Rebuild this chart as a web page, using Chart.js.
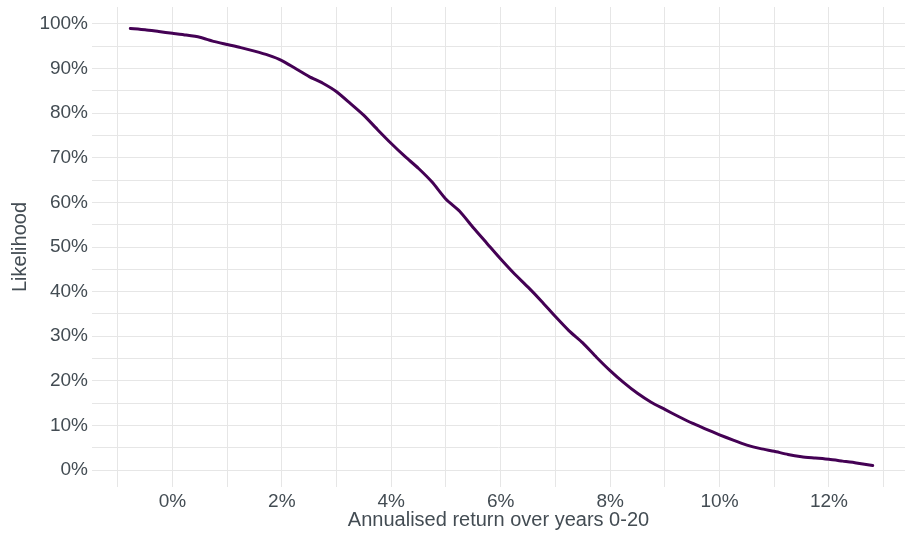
<!DOCTYPE html>
<html>
<head>
<meta charset="utf-8">
<script src="https://cdn.jsdelivr.net/npm/chart.js@4/dist/chart.umd.min.js"></script>
<style>
  html, body { margin: 0; padding: 0; background: #ffffff; }
  #wrap { width: 905px; height: 533px; }
</style>
</head>
<body>
<div id="wrap"><canvas id="returnsChart" width="905" height="533"></canvas></div>
<script>
// annualised return (%) and likelihood of reaching at least that return (%)
const returns = [-0.77, -0.5, -0.25, 0, 0.25, 0.5, 0.75, 1.0, 1.25, 1.5, 1.75, 2.0, 2.25, 2.5, 2.75,
  3.0, 3.25, 3.5, 3.75, 4.0, 4.25, 4.5, 4.75, 5.0, 5.25, 5.5, 5.75, 6.0, 6.25, 6.5, 6.75,
  7.0, 7.25, 7.5, 7.75, 8.0, 8.25, 8.5, 8.75, 9.0, 9.25, 9.5, 9.75, 10.0, 10.25, 10.5, 10.75,
  11.0, 11.25, 11.5, 11.75, 12.0, 12.25, 12.5, 12.8];
const likelihood = [99.0, 98.7, 98.3, 97.9, 97.5, 97.0, 96.1, 95.4, 94.7, 93.9, 93.0, 91.8, 90.0, 88.2, 86.7,
  84.8, 82.2, 79.5, 76.3, 73.2, 70.3, 67.6, 64.5, 60.7, 58.0, 54.3, 50.8, 47.3, 44.0, 41.0, 37.8,
  34.4, 31.2, 28.5, 25.3, 22.3, 19.6, 17.2, 15.2, 13.6, 12.0, 10.5, 9.2, 7.9, 6.7, 5.6, 4.8,
  4.2, 3.5, 3.0, 2.7, 2.4, 2.0, 1.6, 1.0];

const xTicks = [0, 2, 4, 6, 8, 10, 12];
const yTicks = [0, 10, 20, 30, 40, 50, 60, 70, 80, 90, 100];
const xGrid = [-1, 0, 1, 2, 3, 4, 5, 6, 7, 8, 9, 10, 11, 12, 13];
const yGrid = [0, 5, 10, 15, 20, 25, 30, 35, 40, 45, 50, 55, 60, 65, 70, 75, 80, 85, 90, 95, 100];

const textColor = '#434c53';
const gridColor = '#e6e6e6';
const fontFamily = '"Liberation Sans", Arial, sans-serif';

const points = returns.map((r, i) => ({ x: r, y: likelihood[i] }));

new Chart(document.getElementById('returnsChart'), {
  type: 'line',
  data: {
    datasets: [{
      data: points,
      borderColor: '#440154',
      borderWidth: 3,
      pointRadius: 0,
      tension: 0.2,
      borderCapStyle: 'round',
      borderJoinStyle: 'round',
      fill: false
    }]
  },
  options: {
    responsive: false,
    animation: false,
    layout: { padding: { left: 0, right: 0, top: 7, bottom: 0 } },
    plugins: {
      legend: { display: false },
      tooltip: { enabled: false }
    },
    scales: {
      x: {
        type: 'linear',
        min: -1.47,
        max: 13.39,
        afterBuildTicks: scale => { scale.ticks = xGrid.map(v => ({ value: v })); },
        afterFit: scale => {
          scale.height = 46;
          scale.paddingLeft = 0;
          scale.paddingRight = 0;
        },
        border: { display: false },
        grid: { color: gridColor, lineWidth: 1, drawTicks: false },
        ticks: {
          padding: 3,
          maxRotation: 0,
          autoSkip: false,
          color: textColor,
          font: { family: fontFamily, size: 19 },
          callback: v => xTicks.includes(v) ? v + '%' : ''
        },
        title: {
          display: true,
          text: 'Annualised return over years 0-20',
          color: textColor,
          font: { family: fontFamily, size: 20 },
          padding: { top: 0, bottom: 1 }
        }
      },
      y: {
        type: 'linear',
        min: -3.8,
        max: 103.8,
        afterBuildTicks: scale => { scale.ticks = yGrid.map(v => ({ value: v })); },
        afterFit: scale => {
          scale.width = 92;
          scale.paddingTop = 0;
          scale.paddingBottom = 0;
        },
        border: { display: false },
        grid: { color: gridColor, lineWidth: 1, drawTicks: false },
        ticks: {
          padding: 4,
          autoSkip: false,
          color: textColor,
          font: { family: fontFamily, size: 19 },
          callback: v => yTicks.includes(v) ? v + '%' : ''
        },
        title: {
          display: true,
          text: 'Likelihood',
          color: textColor,
          font: { family: fontFamily, size: 20 },
          padding: { top: 8, bottom: 0 }
        }
      }
    }
  }
});
</script>
</body>
</html>
